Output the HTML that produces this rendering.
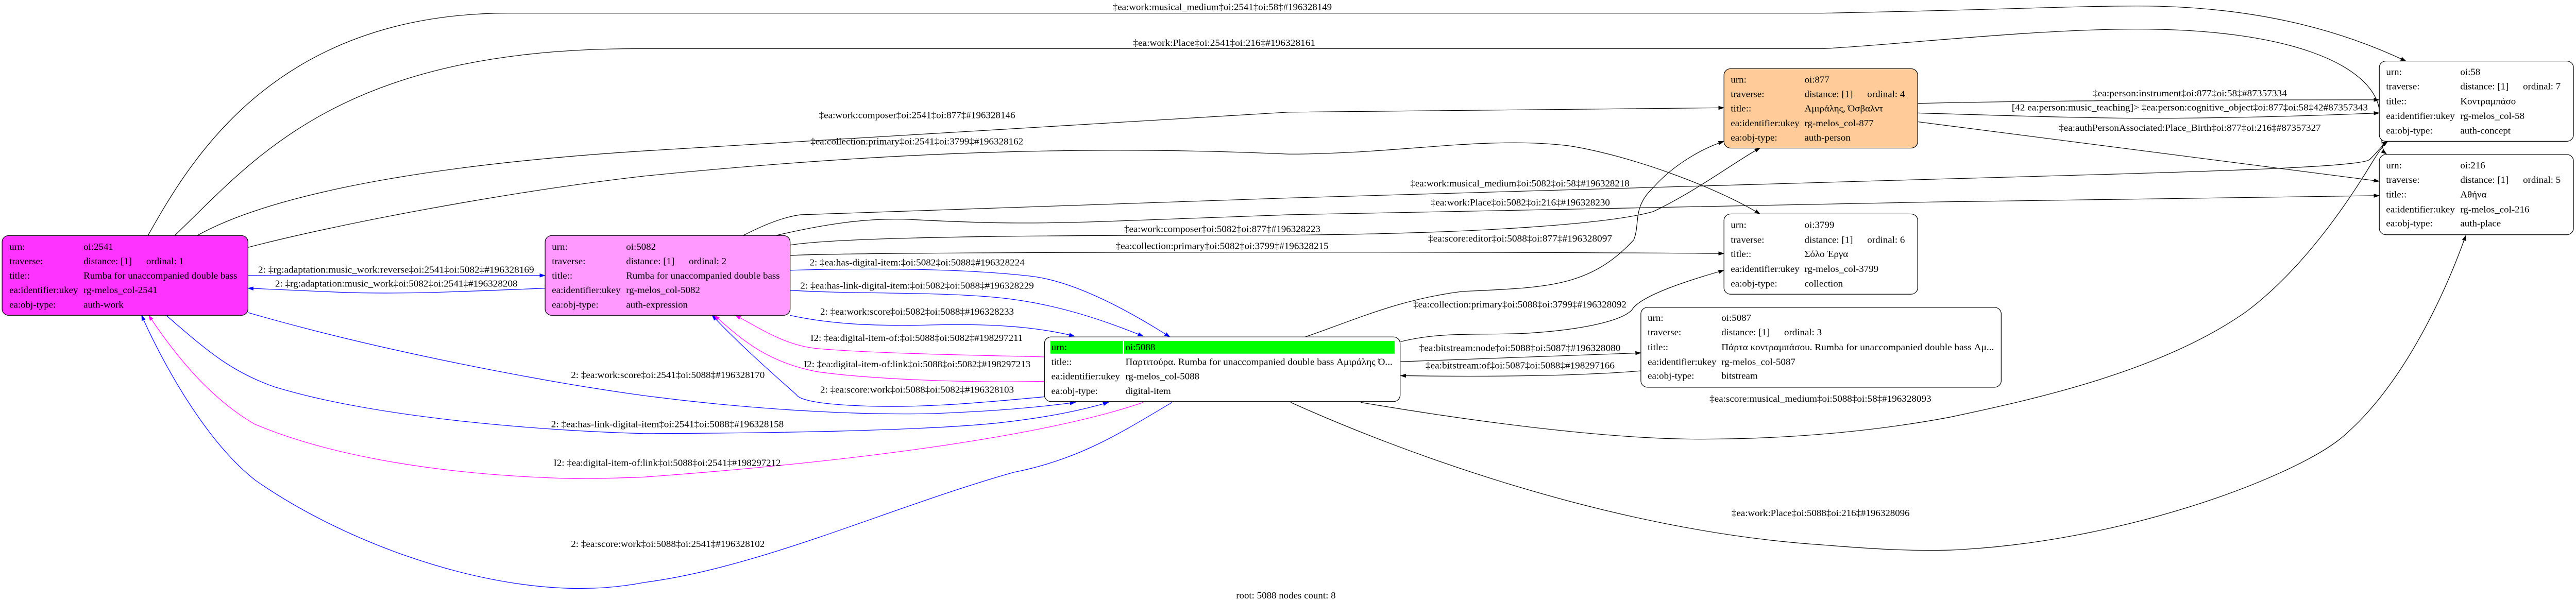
<!DOCTYPE html>
<html><head><meta charset="utf-8"><style>
html,body{margin:0;padding:0;background:#fff;width:100%;height:100%;overflow:hidden;}
svg{display:block;position:absolute;left:0;top:0;width:100vw;height:100vh;}
text{font-family:"Liberation Serif","DejaVu Serif",serif;font-size:23px;fill:#000;}
</style></head><body>
<svg viewBox="0 0 6077 1503" preserveAspectRatio="none" xmlns="http://www.w3.org/2000/svg">
<defs>
<marker id="ak" markerWidth="14" markerHeight="10" refX="13" refY="5" orient="auto" markerUnits="userSpaceOnUse"><path d="M0,0 L14,5 L0,10 Z" fill="#000"/></marker>
<marker id="ab" markerWidth="14" markerHeight="10" refX="13" refY="5" orient="auto" markerUnits="userSpaceOnUse"><path d="M0,0 L14,5 L0,10 Z" fill="#00f"/></marker>
<marker id="am" markerWidth="14" markerHeight="10" refX="13" refY="5" orient="auto" markerUnits="userSpaceOnUse"><path d="M0,0 L14,5 L0,10 Z" fill="#f0f"/></marker>
</defs>
<rect width="6077" height="1503" fill="#fff"/>

<g fill="none" stroke-width="1.5">
<path stroke="#000" marker-end="url(#ak)" d="M349,590 C450,400 650,33 1200,33 L4300,33 C4700,25 4900,15 5041,15 C5350,15 5550,90 5676,153"/>
<path stroke="#000" marker-end="url(#ak)" d="M412,590 C600,400 800,122 1500,122 L4300,122 C4500,110 4800,73 5041,73 C5400,73 5580,160 5610,260 C5625,320 5610,370 5630,386"/>
<path stroke="#000" marker-end="url(#ak)" d="M465,590 C600,510 900,420 1520,378 L3039,281 L4067,270"/>
<path stroke="#000" marker-end="url(#ak)" d="M584,620 C800,560 1200,480 1520,441 C2000,390 2500,360 3039,386 C3300,386 3500,340 3700,365 C3850,390 4050,470 4152,536"/>
<path stroke="#000" marker-end="url(#ak)" d="M1753,590 C1790,570 1840,545 1888,538 L3039,496 L4559,449 C5200,430 5560,420 5590,400 C5610,380 5620,362 5633,354"/>
<path stroke="#000" marker-end="url(#ak)" d="M1830,590 C1950,560 2050,545 2150,550 C2300,558 2400,562 2600,555 L3039,538 L4559,506 L5613,490"/>
<path stroke="#000" marker-end="url(#ak)" d="M1864,614 C2000,590 2600,589 3040,589 C3500,585 3800,560 3900,530 C4000,480 4100,400 4152,371"/>
<path stroke="#000" marker-end="url(#ak)" d="M1864,640 C2000,630 3500,630 4067,635"/>
<path stroke="#000" marker-end="url(#ak)" d="M3079,844 C3200,800 3300,750 3450,730 C3650,720 3750,720 3854,601 C3870,560 3850,520 3900,470 C3950,410 4020,370 4067,354"/>
<path stroke="#000" marker-end="url(#ak)" d="M3304,856 C3400,830 3500,840 3600,835 C3750,825 3830,800 3850,776 C3870,740 3990,700 4067,677"/>
<path stroke="#000" marker-end="url(#ak)" d="M3304,906 L3871,884"/>
<path stroke="#000" marker-end="url(#ak)" d="M3871,929 C3750,940 3550,945 3304,941"/>
<path stroke="#000" marker-end="url(#ak)" d="M3210,1008 C3500,1060 3800,1100 4009,1100 C4250,1100 4450,1075 4600,1045 C4800,1000 5100,930 5300,780 C5450,660 5560,470 5600,400 C5615,375 5625,360 5633,354"/>
<path stroke="#000" marker-end="url(#ak)" d="M3045,1008 C3300,1130 3800,1330 4300,1365 C4450,1378 4520,1380 4600,1378 C5000,1360 5400,1200 5520,1100 C5680,960 5780,700 5817,590"/>
<path stroke="#000" marker-end="url(#ak)" d="M4524,259 C4800,252 5200,250 5613,250"/>
<path stroke="#000" marker-end="url(#ak)" d="M4524,283 C4800,292 5000,298 5138,296 C5350,294 5500,288 5613,283"/>
<path stroke="#000" marker-end="url(#ak)" d="M4524,305 L5613,454"/>
<path stroke="#00f" marker-end="url(#ab)" d="M585,690 L1286,690"/>
<path stroke="#00f" marker-end="url(#ab)" d="M1286,722 C1100,730 950,738 800,732 C700,728 640,725 585,722"/>
<path stroke="#00f" marker-end="url(#ab)" d="M585,783 C900,880 1300,960 1520,991 C1800,1030 2050,1040 2200,1036 C2350,1030 2450,1020 2537,1008"/>
<path stroke="#00f" marker-end="url(#ab)" d="M392,790 C480,870 540,930 650,970 C900,1050 1300,1080 1520,1086 C1900,1085 2200,1076 2350,1060 C2480,1045 2560,1025 2615,1008"/>
<path stroke="#00f" marker-end="url(#ab)" d="M2765,1008 C2650,1080 2550,1150 2392,1183 C2100,1270 1800,1420 1520,1459 C1450,1473 1400,1474 1357,1474 C1100,1470 800,1350 601,1202 C480,1100 380,900 334,790"/>
<path stroke="#00f" marker-end="url(#ab)" d="M1864,677 C2100,670 2300,675 2441,693 C2550,710 2680,790 2760,844"/>
<path stroke="#00f" marker-end="url(#ab)" d="M1864,727 C2000,737 2200,730 2350,745 C2500,760 2620,810 2697,842"/>
<path stroke="#00f" marker-end="url(#ab)" d="M1864,790 C1950,810 2050,818 2198,814 C2350,810 2450,820 2535,842"/>
<path stroke="#00f" marker-end="url(#ab)" d="M2464,994 C2300,1010 2150,1025 2000,1015 C1920,1010 1885,1000 1879,989 C1860,970 1760,880 1680,790"/>
<path stroke="#f0f" marker-end="url(#am)" d="M2697,1008 C2500,1080 2100,1150 1520,1195 C1450,1198 1400,1199 1357,1199 C1000,1190 750,1130 600,1062 C500,1000 420,900 351,790"/>
<path stroke="#f0f" marker-end="url(#am)" d="M2464,894 C2300,890 2050,885 1927,873 C1850,865 1790,820 1735,790"/>
<path stroke="#f0f" marker-end="url(#am)" d="M2464,955 C2300,960 2050,950 1927,931 C1800,905 1740,840 1685,790"/>
</g>

<g stroke="#000" stroke-width="1.5">
<rect x="5" y="590" width="580" height="200" rx="16" fill="#ff33ff"/>
<rect x="1286" y="590" width="578" height="200" rx="16" fill="#ff99ff"/>
<rect x="2464" y="844" width="839" height="162" rx="16" fill="#fff"/>
<rect x="4067" y="172" width="457" height="199" rx="16" fill="#ffcc99"/>
<rect x="4067" y="536" width="457" height="201" rx="16" fill="#fff"/>
<rect x="3871" y="770" width="850" height="200" rx="16" fill="#fff"/>
<rect x="5613" y="153" width="458" height="201" rx="16" fill="#fff"/>
<rect x="5613" y="387" width="458" height="201" rx="16" fill="#fff"/>
</g>
<rect x="2478" y="854" width="171" height="32" fill="#00ff00"/>
<rect x="2652" y="854" width="638" height="32" fill="#00ff00"/>

<text x="22" y="626">urn:</text><text x="197" y="626">oi:2541</text>
<text x="22" y="662">traverse:</text><text x="197" y="662">distance: [1]</text><text x="345" y="662">ordinal: 1</text>
<text x="22" y="698">title::</text><text x="197" y="698">Rumba for unaccompanied double bass</text>
<text x="22" y="734">ea:identifier:ukey</text><text x="197" y="734">rg-melos_col-2541</text>
<text x="22" y="771">ea:obj-type:</text><text x="197" y="771">auth-work</text>
<text x="1302" y="626">urn:</text><text x="1477" y="626">oi:5082</text>
<text x="1302" y="662">traverse:</text><text x="1477" y="662">distance: [1]</text><text x="1625" y="662">ordinal: 2</text>
<text x="1302" y="698">title::</text><text x="1477" y="698">Rumba for unaccompanied double bass</text>
<text x="1302" y="734">ea:identifier:ukey</text><text x="1477" y="734">rg-melos_col-5082</text>
<text x="1302" y="771">ea:obj-type:</text><text x="1477" y="771">auth-expression</text>
<text x="2480" y="877">urn:</text><text x="2655" y="877">oi:5088</text>
<text x="2480" y="914">title::</text><text x="2655" y="914" textLength="630" lengthAdjust="spacingAndGlyphs">Παρτιτούρα. Rumba for unaccompanied double bass Αμιράλης Ό...</text>
<text x="2480" y="950">ea:identifier:ukey</text><text x="2655" y="950">rg-melos_col-5088</text>
<text x="2480" y="987">ea:obj-type:</text><text x="2655" y="987">digital-item</text>
<text x="4083" y="207">urn:</text><text x="4257" y="207">oi:877</text>
<text x="4083" y="243">traverse:</text><text x="4257" y="243">distance: [1]</text><text x="4405" y="243">ordinal: 4</text>
<text x="4083" y="279">title::</text><text x="4257" y="279">Αμιράλης, Όσβαλντ</text>
<text x="4083" y="316">ea:identifier:ukey</text><text x="4257" y="316">rg-melos_col-877</text>
<text x="4083" y="352">ea:obj-type:</text><text x="4257" y="352">auth-person</text>
<text x="4083" y="571">urn:</text><text x="4257" y="571">oi:3799</text>
<text x="4083" y="608">traverse:</text><text x="4257" y="608">distance: [1]</text><text x="4405" y="608">ordinal: 6</text>
<text x="4083" y="644">title::</text><text x="4257" y="644">Σόλο Έργα</text>
<text x="4083" y="681">ea:identifier:ukey</text><text x="4257" y="681">rg-melos_col-3799</text>
<text x="4083" y="718">ea:obj-type:</text><text x="4257" y="718">collection</text>
<text x="3887" y="804">urn:</text><text x="4061" y="804">oi:5087</text>
<text x="3887" y="840">traverse:</text><text x="4061" y="840">distance: [1]</text><text x="4209" y="840">ordinal: 3</text>
<text x="3887" y="877">title::</text><text x="4061" y="877" textLength="643" lengthAdjust="spacingAndGlyphs">Πάρτα κοντραμπάσου. Rumba for unaccompanied double bass Αμ...</text>
<text x="3887" y="914">ea:identifier:ukey</text><text x="4061" y="914">rg-melos_col-5087</text>
<text x="3887" y="949">ea:obj-type:</text><text x="4061" y="949">bitstream</text>
<text x="5629" y="188">urn:</text><text x="5804" y="188">oi:58</text>
<text x="5629" y="224">traverse:</text><text x="5804" y="224">distance: [1]</text><text x="5952" y="224">ordinal: 7</text>
<text x="5629" y="261">title::</text><text x="5804" y="261">Κοντραμπάσο</text>
<text x="5629" y="298">ea:identifier:ukey</text><text x="5804" y="298">rg-melos_col-58</text>
<text x="5629" y="335">ea:obj-type:</text><text x="5804" y="335">auth-concept</text>
<text x="5629" y="422">urn:</text><text x="5804" y="422">oi:216</text>
<text x="5629" y="458">traverse:</text><text x="5804" y="458">distance: [1]</text><text x="5952" y="458">ordinal: 5</text>
<text x="5629" y="495">title::</text><text x="5804" y="495">Αθήνα</text>
<text x="5629" y="532">ea:identifier:ukey</text><text x="5804" y="532">rg-melos_col-216</text>
<text x="5629" y="567">ea:obj-type:</text><text x="5804" y="567">auth-place</text>

<g>
<text x="2625" y="25" textLength="517" lengthAdjust="spacingAndGlyphs">‡ea:work:musical_medium‡oi:2541‡oi:58‡#196328149</text>
<text x="2673" y="115" textLength="430" lengthAdjust="spacingAndGlyphs">‡ea:work:Place‡oi:2541‡oi:216‡#196328161</text>
<text x="1932" y="296" textLength="463" lengthAdjust="spacingAndGlyphs">‡ea:work:composer‡oi:2541‡oi:877‡#196328146</text>
<text x="1912" y="362" textLength="502" lengthAdjust="spacingAndGlyphs">‡ea:collection:primary‡oi:2541‡oi:3799‡#196328162</text>
<text x="609" y="683" textLength="651" lengthAdjust="spacingAndGlyphs">2: ‡rg:adaptation:music_work:reverse‡oi:2541‡oi:5082‡#196328169</text>
<text x="649" y="718" textLength="572" lengthAdjust="spacingAndGlyphs">2: ‡rg:adaptation:music_work‡oi:5082‡oi:2541‡#196328208</text>
<text x="1347" y="947" textLength="457" lengthAdjust="spacingAndGlyphs">2: ‡ea:work:score‡oi:2541‡oi:5088‡#196328170</text>
<text x="1300" y="1070" textLength="549" lengthAdjust="spacingAndGlyphs">2: ‡ea:has-link-digital-item‡oi:2541‡oi:5088‡#196328158</text>
<text x="1306" y="1167" textLength="536" lengthAdjust="spacingAndGlyphs">I2: ‡ea:digital-item-of:link‡oi:5088‡oi:2541‡#198297212</text>
<text x="1347" y="1370" textLength="457" lengthAdjust="spacingAndGlyphs">2: ‡ea:score:work‡oi:5088‡oi:2541‡#196328102</text>
<text x="1910" y="665" textLength="507" lengthAdjust="spacingAndGlyphs">2: ‡ea:has-digital-item:‡oi:5082‡oi:5088‡#196328224</text>
<text x="1888" y="723" textLength="551" lengthAdjust="spacingAndGlyphs">2: ‡ea:has-link-digital-item:‡oi:5082‡oi:5088‡#196328229</text>
<text x="1935" y="788" textLength="457" lengthAdjust="spacingAndGlyphs">2: ‡ea:work:score‡oi:5082‡oi:5088‡#196328233</text>
<text x="1912" y="854" textLength="501" lengthAdjust="spacingAndGlyphs">I2: ‡ea:digital-item-of:‡oi:5088‡oi:5082‡#198297211</text>
<text x="1896" y="920" textLength="535" lengthAdjust="spacingAndGlyphs">I2: ‡ea:digital-item-of:link‡oi:5088‡oi:5082‡#198297213</text>
<text x="1935" y="984" textLength="457" lengthAdjust="spacingAndGlyphs">2: ‡ea:score:work‡oi:5088‡oi:5082‡#196328103</text>
<text x="3327" y="467" textLength="517" lengthAdjust="spacingAndGlyphs">‡ea:work:musical_medium‡oi:5082‡oi:58‡#196328218</text>
<text x="3375" y="515" textLength="423" lengthAdjust="spacingAndGlyphs">‡ea:work:Place‡oi:5082‡oi:216‡#196328230</text>
<text x="2652" y="581" textLength="463" lengthAdjust="spacingAndGlyphs">‡ea:work:composer‡oi:5082‡oi:877‡#196328223</text>
<text x="2632" y="624" textLength="502" lengthAdjust="spacingAndGlyphs">‡ea:collection:primary‡oi:5082‡oi:3799‡#196328215</text>
<text x="3369" y="605" textLength="434" lengthAdjust="spacingAndGlyphs">‡ea:score:editor‡oi:5088‡oi:877‡#196328097</text>
<text x="3334" y="770" textLength="503" lengthAdjust="spacingAndGlyphs">‡ea:collection:primary‡oi:5088‡oi:3799‡#196328092</text>
<text x="3348" y="879" textLength="475" lengthAdjust="spacingAndGlyphs">‡ea:bitstream:node‡oi:5088‡oi:5087‡#196328080</text>
<text x="3363" y="923" textLength="446" lengthAdjust="spacingAndGlyphs">‡ea:bitstream:of‡oi:5087‡oi:5088‡#198297166</text>
<text x="4033" y="1006" textLength="523" lengthAdjust="spacingAndGlyphs">‡ea:score:musical_medium‡oi:5088‡oi:58‡#196328093</text>
<text x="4085" y="1293" textLength="420" lengthAdjust="spacingAndGlyphs">‡ea:work:Place‡oi:5088‡oi:216‡#196328096</text>
<text x="4937" y="241" textLength="458" lengthAdjust="spacingAndGlyphs">‡ea:person:instrument‡oi:877‡oi:58‡#87357334</text>
<text x="4746" y="277" textLength="840" lengthAdjust="spacingAndGlyphs">[42 ea:person:music_teaching]&gt; ‡ea:person:cognitive_object‡oi:877‡oi:58‡42#87357343</text>
<text x="4857" y="328" textLength="618" lengthAdjust="spacingAndGlyphs">‡ea:authPersonAssociated:Place_Birth‡oi:877‡oi:216‡#87357327</text>
<text x="2916" y="1499" textLength="235" lengthAdjust="spacingAndGlyphs">root: 5088 nodes count: 8</text>
</g>
</svg>
</body></html>
